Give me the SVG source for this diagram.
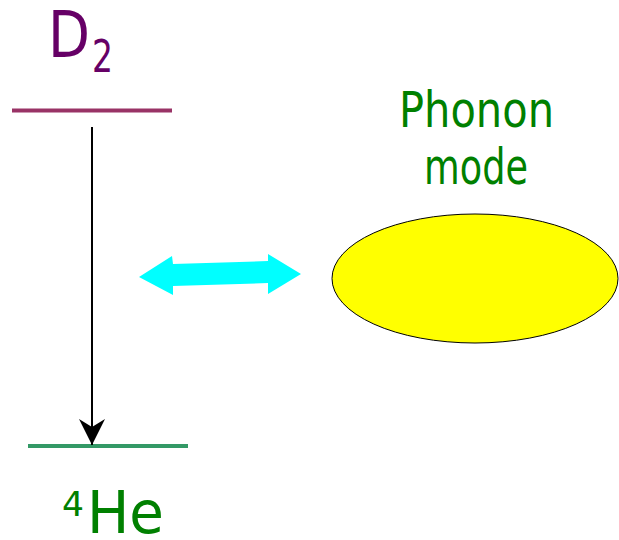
<svg xmlns="http://www.w3.org/2000/svg" width="619" height="540" viewBox="0 0 619 540">
<style>
text{font-family:"DejaVu Sans",Verdana,sans-serif}
.g{fill:#008000}
</style>
<defs>
<marker id="ah" markerUnits="userSpaceOnUse" markerWidth="28" markerHeight="28" refX="26" refY="13" orient="auto" viewBox="0 0 28 28">
<path d="M26,13 L0,0 L8,13 L0,26 Z" fill="#000"/>
</marker>
</defs>
<rect width="619" height="540" fill="#fff"/>
<g id="D2">
<line x1="12" y1="110.5" x2="172" y2="110.5" stroke="#993366" stroke-width="4"/>
<text x="48" y="57" font-size="64" fill="#660066" textLength="42" lengthAdjust="spacingAndGlyphs">D</text>
<text x="92" y="72" font-size="45" fill="#660066" textLength="21" lengthAdjust="spacingAndGlyphs">2</text>
</g>
<g id="He4">
<line x1="28" y1="446" x2="188" y2="446" stroke="#339966" stroke-width="4"/>
<text x="62" y="516" font-size="33" class="g" textLength="22" lengthAdjust="spacingAndGlyphs">4</text>
<text x="87" y="533" font-size="59" class="g" textLength="77" lengthAdjust="spacingAndGlyphs">He</text>
</g>
<g id="phonon">
<ellipse cx="475" cy="278.5" rx="143" ry="64.5" fill="#ffff00" stroke="#000" stroke-width="1"/>
<text x="399" y="127" font-size="49" class="g" textLength="155" lengthAdjust="spacingAndGlyphs">Phonon</text>
<text x="424" y="184" font-size="49" class="g" textLength="104" lengthAdjust="spacingAndGlyphs">mode</text>
</g>
<g id="connectors">
<line x1="92" y1="127" x2="92" y2="445" stroke="#000" stroke-width="2" marker-end="url(#ah)"/>
<polygon points="139,277 172,256 173,264 268,261 268,254 301,274 268,294 268,283 173,286 173,295" fill="#00ffff"/>
</g>
</svg>
